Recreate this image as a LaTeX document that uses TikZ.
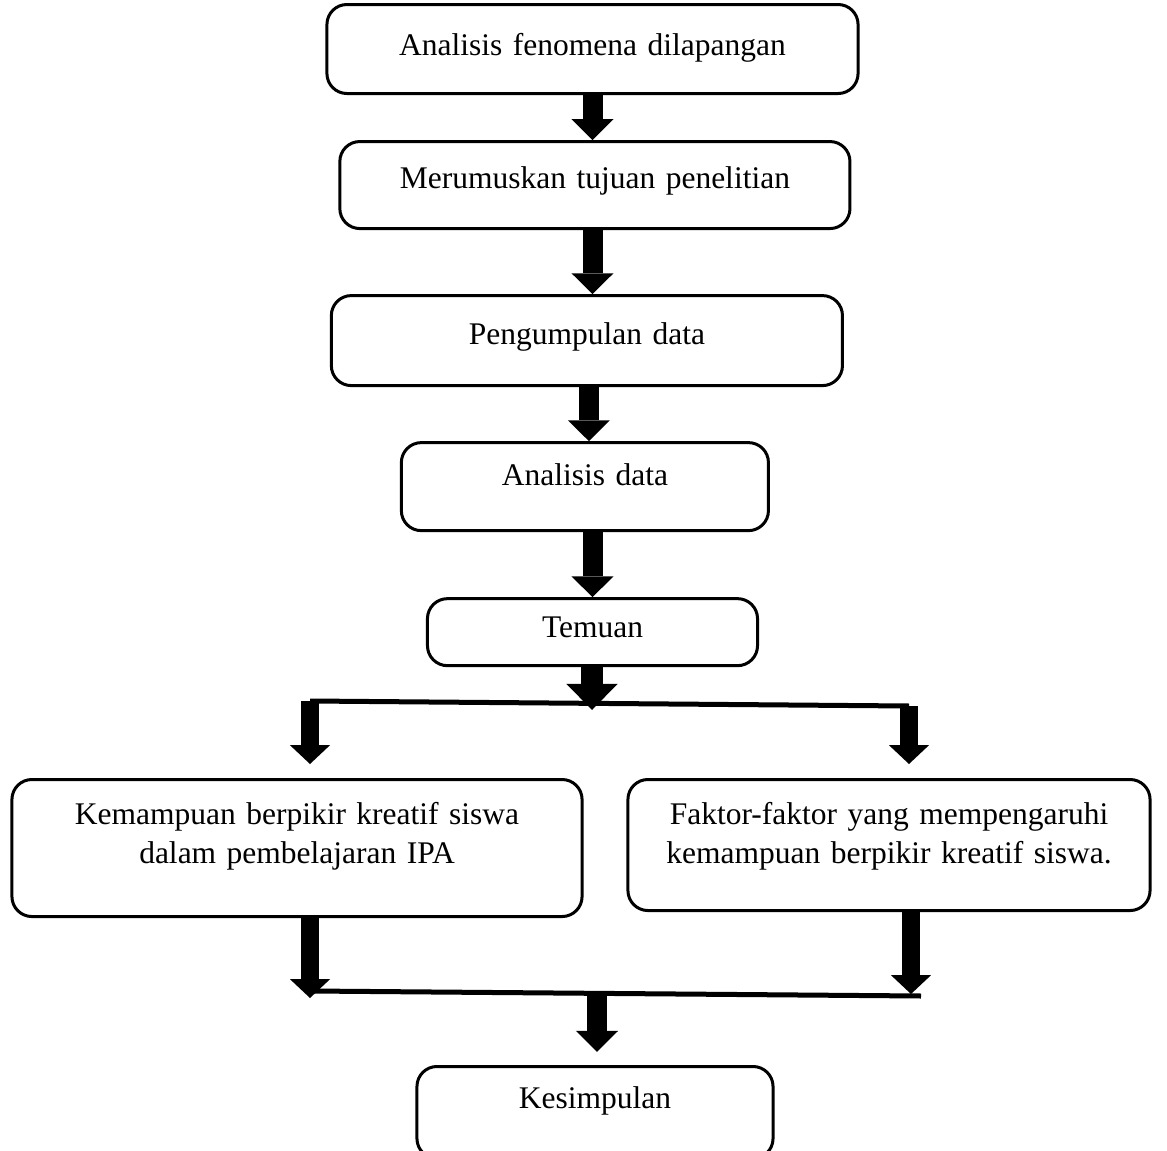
\documentclass[tikz,border=0pt]{standalone}
\usepackage{fontspec}
\setmainfont{Liberation Serif}
\usetikzlibrary{arrows.meta}
\usetikzlibrary{positioning}
\tikzstyle{box} = [draw=black, line width=0.075cm, rounded corners=0.5cm, inner xsep=0pt, inner ysep=0pt, align=center, anchor=north, font=\fontsize{22.4}{28}\selectfont]
\tikzstyle{fat} = [line width=0.5cm, -{Triangle[width=1.05cm, length=0.52cm, line width=0pt]}]
\tikzstyle{fatside} = [line width=0.45cm, -{Triangle[width=1.0cm, length=0.47cm, line width=0pt]}]
\tikzstyle{fatmid} = [line width=0.55cm, -{Triangle[width=1.275cm, length=0.65cm, line width=0pt]}]
\tikzstyle{bar} = [line width=0.125cm]

\begin{document}
\begin{tikzpicture}[x=0.025cm, y=-0.025cm]

		\useasboundingbox (0,0) rectangle (1167,1151);

		\node (fenomena) [box, text width=13.275cm, text height=1.275cm, text depth=0.95cm] at (592.5,3) {Analisis fenomena dilapangan};

		\node (tujuan) [box, below=1.125cm of fenomena, xshift=0.06cm, text width=12.75cm, text height=1.175cm, text depth=1cm] {Merumuskan tujuan penelitian};

		\node (pengumpulan) [box, below=1.6cm of tujuan, xshift=-0.2cm, text width=12.775cm, text height=1.225cm, text depth=1.025cm] {Pengumpulan data};

		\node (analisis) [box, below=1.35cm of pengumpulan, xshift=-0.05cm, text width=9.175cm, text height=1.075cm, text depth=1.125cm] {Analisis data};

		\node (temuan) [box, below=1.625cm of analisis, xshift=0.19cm, text width=8.25cm, text height=0.975cm, text depth=0.7cm] {Temuan};

		\node (kemampuan) [box, text width=14.25cm, text height=1.125cm, text depth=2.3cm] at (297,778) {Kemampuan berpikir kreatif siswa\\dalam pembelajaran IPA};

		\node (faktor) [box, text width=13.05cm, text height=1.125cm, text depth=2.15cm] at (889,778) {Faktor-faktor yang mempengaruhi\\kemampuan berpikir kreatif siswa.};

		\node (kesimpulan) [box, text width=8.9cm, text height=1.05cm, text depth=1.25cm] at (595,1065) {Kesimpulan};

		\coordinate (splitL) at (310,701);
		\coordinate (splitR) at (909,706);
		\coordinate (splitM) at (592,710);
		\coordinate (joinL) at (310,991);
		\coordinate (joinR) at (921,996);
		\coordinate (joinM) at (597,993);
		\coordinate (tipL) at (310,998);
		\coordinate (tipR) at (911,994);

		\draw [fat] (fenomena.south) -- (fenomena.south |- tujuan.north);
		\draw [fat] (tujuan.south -| fenomena.south) -- (fenomena.south |- pengumpulan.north);
		\draw [fat] ([xshift=0.05cm]pengumpulan.south) -- ([xshift=0.05cm]pengumpulan.south |- analisis.north);
		\draw [fat] (analisis.south -| temuan.north) -- (temuan.north);

		\draw [bar] (splitL) -- (splitR);
		\draw [fatmid] (temuan.south -| splitM) -- (splitM);
		\draw [fatside] (splitL) -- ([yshift=0.35cm]splitL |- kemampuan.north);
		\draw [fatside] (splitR) -- ([yshift=0.35cm]splitR |- faktor.north);

		\draw [bar] (joinL) -- (joinR);
		\draw [fatside] (kemampuan.south -| tipL) -- (tipL);
		\draw [fatside] (faktor.south -| tipR) -- (tipR);
		\draw [fat] (joinM) -- ([yshift=0.33cm]joinM |- kesimpulan.north);

	\end{tikzpicture}
\end{document}
